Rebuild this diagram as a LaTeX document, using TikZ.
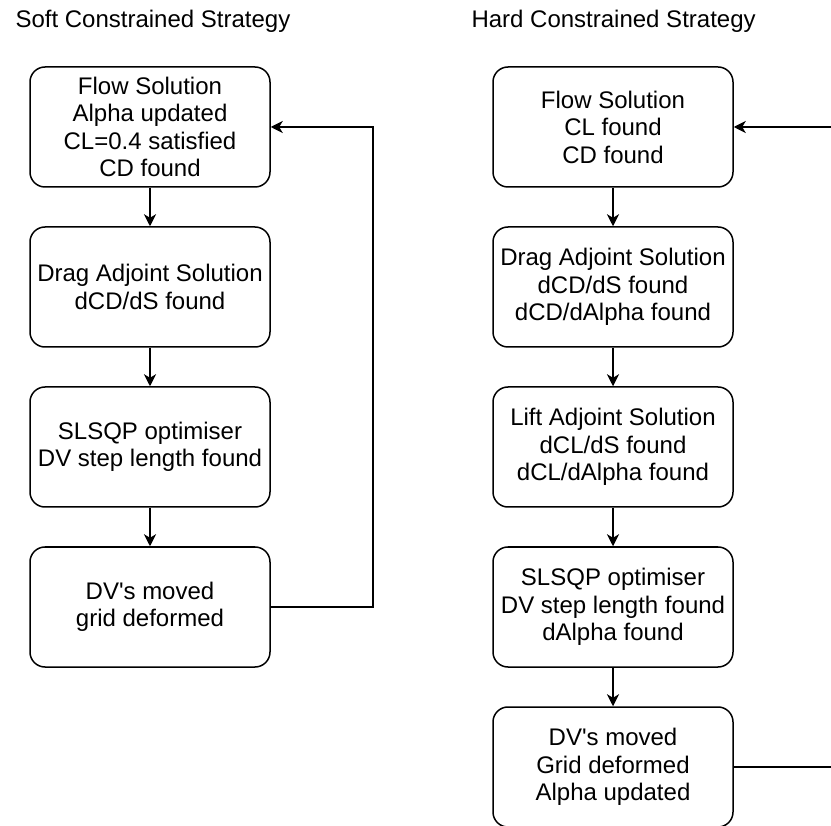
\documentclass[tikz,border=0pt]{standalone}
\usepackage{fontspec}
\setmainfont{Liberation Sans}
\usetikzlibrary{arrows.meta}

\begin{document}
\begin{tikzpicture}[x=1pt,y=-1pt,
	font=\fontsize{24}{27.5}\selectfont,
	box/.style={draw, line width=1.5pt, rounded corners=15pt, minimum width=240pt, minimum height=120pt, align=center, inner sep=2pt},
	flow/.style={line width=1.5pt, -{Stealth[length=12pt,width=12pt,inset=3.5pt]}}]
	\clip (0,0) rectangle (831,826);

	\node[anchor=west] (softtitle) at (12,21)	{Soft Constrained Strategy};
	\node[anchor=west] (hardtitle) at (468,21)	{Hard Constrained Strategy};

	\node[box] (sflow) at (150,127)	{Flow Solution\\Alpha updated\\CL=0.4 satisfied\\CD found};
	\node[box] (sdrag) at (150,287)	{Drag Adjoint Solution\\dCD/dS found};
	\node[box] (sopt) at (150,447)	{SLSQP optimiser\\DV step length found};
	\node[box] (sdv) at (150,607)	{DV\textquotesingle s moved\\grid deformed};

	\node[box] (hflow) at (613,127)	{Flow Solution\\CL found\\CD found};
	\node[box] (hdrag) at (613,287)	{Drag Adjoint Solution\\dCD/dS found\\dCD/dAlpha found};
	\node[box] (hlift) at (613,447)	{Lift Adjoint Solution\\dCL/dS found\\dCL/dAlpha found};
	\node[box] (hopt) at (613,607)	{SLSQP optimiser\\DV step length found\\dAlpha found};
	\node[box] (hdv) at (613,767)	{DV\textquotesingle s moved\\Grid deformed\\Alpha updated};

	\path [flow] (sflow) edge (sdrag);
	\path [flow] (sdrag) edge (sopt);
	\path [flow] (sopt) edge (sdv);
	\draw [flow] (sdv.east) -- ++(102,0) |- (sflow.east);

	\path [flow] (hflow) edge (hdrag);
	\path [flow] (hdrag) edge (hlift);
	\path [flow] (hlift) edge (hopt);
	\path [flow] (hopt) edge (hdv);
	\draw [flow] (hdv.east) -- ++(100,0) |- (hflow.east);
\end{tikzpicture}
\end{document}
